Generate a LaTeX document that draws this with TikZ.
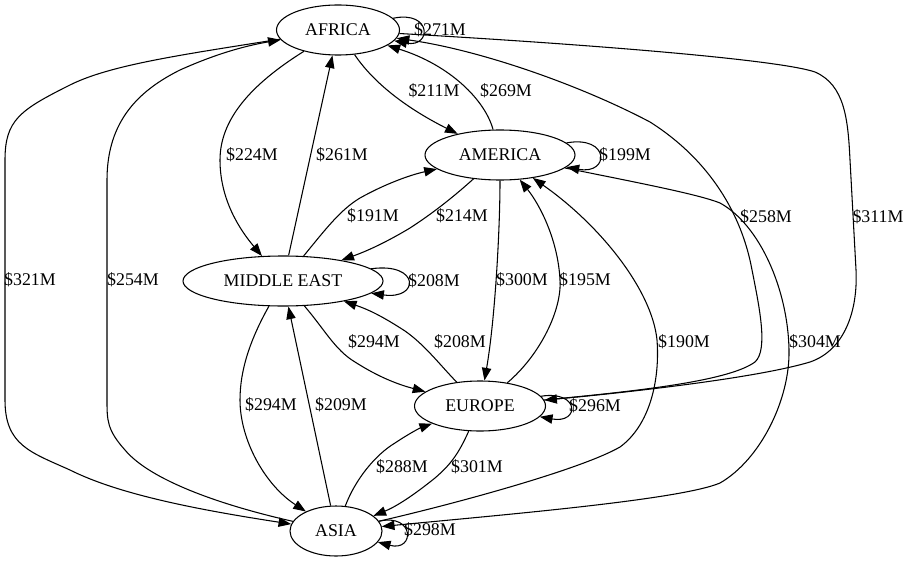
\documentclass[tikz,border=0pt]{standalone}
\usepackage{fontspec}
\setmainfont{Liberation Serif}
\usetikzlibrary{arrows.meta,shapes.geometric}
\tikzset{
  region/.style={draw, line width=0.8pt, ellipse, inner sep=0pt, minimum height=37.5pt, font=\fontsize{13.4}{15}\selectfont},
  flow/.style={draw, line width=0.8pt, -{Triangle[length=9.5pt,width=7pt]}},
  amt/.style={inner sep=0pt, font=\fontsize{13.4}{15}\selectfont},
}
\begin{document}
\begin{tikzpicture}[x=0.75pt,y=-0.75pt]
\useasboundingbox (0,0) rectangle (912,563);
% nodes
\node[region, minimum width=92.25pt] (africa) at (338,30) {AFRICA};
\node[region, minimum width=112.5pt] (america) at (500,155) {AMERICA};
\node[region, minimum width=150pt] (me) at (283,281) {MIDDLE EAST};
\node[region, minimum width=98.25pt] (europe) at (480,406) {EUROPE};
\node[region, minimum width=69pt] (asia) at (336,531) {ASIA};
% self loops
\draw[flow] (africa) .. controls (432,10) and (432,48) .. (africa);
\draw[flow] (america) .. controls (610,135) and (610,175) .. (america);
\draw[flow] (me) .. controls (420,262) and (420,300) .. (me);
\draw[flow] (europe) .. controls (580,390) and (580,424) .. (europe);
\draw[flow] (asia) .. controls (415,513) and (415,552) .. (asia);
% edges
\draw[flow] (africa) .. controls (375,85) and (410,110) .. (america);
\draw[flow] (america) .. controls (485,100) and (450,65) .. (africa);
\draw[flow] (africa) .. controls (250,85) and (220,120) .. (220,160) .. controls (220,200) and (240,230) .. (me);
\draw[flow] (me) -- (africa);
\draw[flow] (me) .. controls (325,230) and (340,210) .. (360,198) .. controls (385,184) and (410,175) .. (america);
\draw[flow] (america) .. controls (450,200) and (430,215) .. (410,228) .. controls (390,240) and (370,250) .. (me);
\draw[flow] (america) .. controls (500,230) and (495,320) .. (europe);
\draw[flow] (europe) .. controls (540,355) and (562,310) .. (560,280) .. controls (558,240) and (540,205) .. (america);
\draw[flow] (me) .. controls (325,330) and (335,350) .. (355,362) .. controls (380,378) and (400,385) .. (europe);
\draw[flow] (europe) .. controls (440,365) and (425,345) .. (405,331) .. controls (385,318) and (370,310) .. (me);
\draw[flow] (me) .. controls (250,340) and (240,370) .. (240,400) .. controls (240,440) and (265,485) .. (asia);
\draw[flow] (asia) -- (me);
\draw[flow] (asia) .. controls (355,480) and (375,455) .. (395,443) .. controls (410,433) and (420,428) .. (europe);
\draw[flow] (europe) .. controls (458,455) and (450,465) .. (435,478) .. controls (420,490) and (400,505) .. (asia);
% long outer edges
\draw[flow] (africa) .. controls (180,55) and (110,65) .. (70,85) .. controls (20,110) and (5,120) .. (5,160) -- (5,400) .. controls (5,445) and (30,452) .. (70,470) .. controls (120,495) and (200,510) .. (asia);
\draw[flow] (asia) .. controls (220,505) and (150,480) .. (125,450) .. controls (107,430) and (107,420) .. (107,400) -- (107,180) .. controls (107,120) and (140,90) .. (180,70) .. controls (220,52) and (250,45) .. (africa);
\draw[flow] (africa) .. controls (600,45) and (780,60) .. (815,72) .. controls (845,85) and (848,120) .. (850,160) -- (856,270) .. controls (858,310) and (845,350) .. (810,362) .. controls (750,380) and (600,395) .. (europe);
\draw[flow] (europe) .. controls (650,390) and (730,380) .. (755,362) .. controls (768,350) and (760,310) .. (752,270) .. controls (742,215) and (710,160) .. (650,122) .. controls (580,85) and (480,50) .. (africa);
\draw[flow] (america) .. controls (650,185) and (700,195) .. (720,203) .. controls (760,225) and (788,290) .. (789,350) .. controls (790,400) and (760,460) .. (720,483) .. controls (680,500) and (500,515) .. (asia);
\draw[flow] (asia) .. controls (450,505) and (580,470) .. (620,447) .. controls (650,425) and (660,380) .. (657,340) .. controls (652,290) and (600,225) .. (america);
% labels
\node[amt] (l271) at (440,30) {\$271M};
\node[amt] (l211) at (434,91) {\$211M};
\node[amt] (l269) at (506,91) {\$269M};
\node[amt] (l224) at (252,155) {\$224M};
\node[amt] (l261) at (342,155) {\$261M};
\node[amt] (l199) at (625,155) {\$199M};
\node[amt] (l191) at (373,216) {\$191M};
\node[amt] (l214) at (462,216) {\$214M};
\node[amt] (l258) at (766,217) {\$258M};
\node[amt] (l311) at (878,217) {\$311M};
\node[amt] (l208a) at (434,281) {\$208M};
\node[amt] (l300) at (522,280) {\$300M};
\node[amt] (l195) at (585,280) {\$195M};
\node[amt] (l321) at (30,280) {\$321M};
\node[amt] (l254) at (133,280) {\$254M};
\node[amt] (l294a) at (374,342) {\$294M};
\node[amt] (l208b) at (460,342) {\$208M};
\node[amt] (l190) at (684,342) {\$190M};
\node[amt] (l304) at (815,342) {\$304M};
\node[amt] (l294b) at (271,405) {\$294M};
\node[amt] (l209) at (341,405) {\$209M};
\node[amt] (l296) at (595,406) {\$296M};
\node[amt] (l288) at (402,467) {\$288M};
\node[amt] (l301) at (477,467) {\$301M};
\node[amt] (l298) at (430,530) {\$298M};
\end{tikzpicture}
\end{document}
